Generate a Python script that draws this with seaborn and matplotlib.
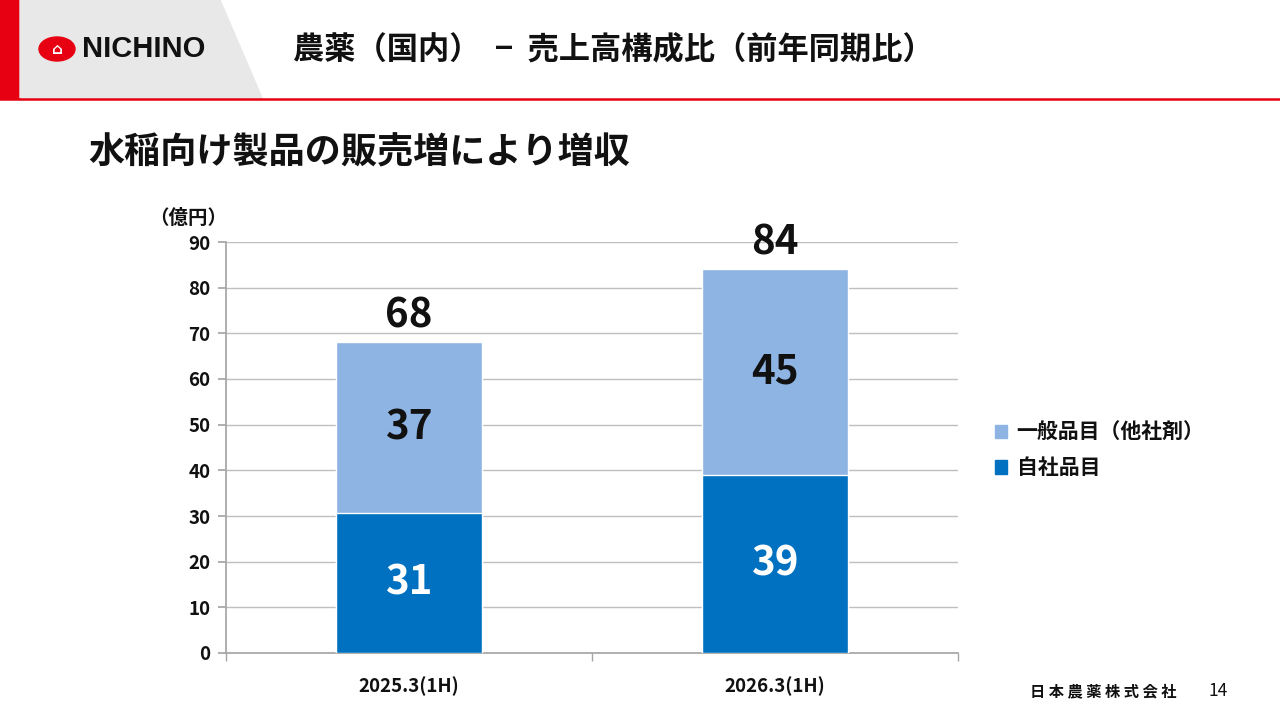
import matplotlib.pyplot as plt
import matplotlib.patches as mpatches
import seaborn as sns
import pandas as pd

periods = ['2025.3(1H)', '2026.3(1H)']
own_products = [30.6, 39.0]       # 自社品目
general_products = [37.4, 45.1]   # 一般品目（他社剤）
own_labels = ['31', '39']
general_labels = ['37', '45']
total_labels = ['68', '84']
y_ticks = [0, 10, 20, 30, 40, 50, 60, 70, 80, 90]

DARK = '#0070C0'
LIGHT = '#8EB4E3'
RED = '#E60012'

sns.set_theme(style='white')
plt.rcParams['font.family'] = ['Noto Sans CJK JP', 'DejaVu Sans']

df = pd.DataFrame({
    'period': periods,
    'own': own_products,
    'total': [a + b for a, b in zip(own_products, general_products)],
})

fig = plt.figure(figsize=(12.8, 7.2), dpi=100)

# header decoration
fig.patches.append(mpatches.Rectangle((0, 0.864), 20 / 1280, 0.136, transform=fig.transFigure,
                                      color=RED, zorder=0))
fig.patches.append(mpatches.Polygon([(20 / 1280, 1), (220 / 1280, 1), (262 / 1280, 0.864), (20 / 1280, 0.864)],
                                    closed=True, transform=fig.transFigure, color='#E8E8E8', zorder=0))
fig.lines.append(plt.Line2D([0, 1], [0.863, 0.863], transform=fig.transFigure, color=RED, lw=1.8))
fig.patches.append(mpatches.Ellipse((57 / 1280, 1 - 49 / 720), 36 / 1280, 24 / 720, transform=fig.transFigure,
                                    color=RED, zorder=1))
fig.text(57 / 1280, 1 - 49 / 720, '⌂', color='white', fontsize=11, ha='center', va='center',
         fontweight='bold', family=['DejaVu Sans'])
fig.text(82 / 1280, 1 - 49 / 720, 'NICHINO', fontsize=21, fontweight='bold', ha='left', va='center',
         family=['Liberation Sans'], color='#111111')
fig.text(293 / 1280, 1 - 50 / 720, '農薬（国内）  −  売上高構成比（前年同期比）', fontsize=22.5,
         fontweight='bold', ha='left', va='center', color='#111111')
fig.text(88 / 1280, 1 - 153 / 720, '水稲向け製品の販売増により増収', fontsize=26, fontweight='bold',
         ha='left', va='center', color='#111111')

ax = fig.add_axes([226 / 1280, 1 - 653 / 720, 732 / 1280, 411 / 720])
sns.barplot(data=df, x='period', y='total', color=LIGHT, width=0.4, saturation=1, ax=ax, zorder=3)
sns.barplot(data=df, x='period', y='own', color=DARK, width=0.4, saturation=1, ax=ax, zorder=3)
for p in ax.patches:
    p.set_edgecolor('white')
    p.set_linewidth(1)

ax.set_xlim(-0.5, 1.5)
ax.set_ylim(0, 90)
ax.set_yticks(y_ticks)
ax.yaxis.grid(True, color='#BFBFBF', lw=1, zorder=0)
ax.set_axisbelow(True)
ax.set_xlabel('')
ax.set_ylabel('')
for s in ['top', 'right']:
    ax.spines[s].set_visible(False)
ax.spines['left'].set_color('#A6A6A6')
ax.spines['bottom'].set_color('#A6A6A6')
ax.tick_params(axis='y', length=6, color='#A6A6A6', labelsize=13.5, pad=5, direction='out', left=True)
ax.tick_params(axis='x', length=0, labelsize=13.5, pad=17)
ax.set_xticks([-0.5, 0.5, 1.5], minor=True)
ax.tick_params(axis='x', which='minor', length=6, color='#A6A6A6', direction='out', bottom=True)
for lbl in ax.get_yticklabels() + ax.get_xticklabels():
    lbl.set_color('#111111')
    lbl.set_fontweight('bold')
ax.text(-0.052, 1.035, '（億円）', transform=ax.transAxes, fontsize=14, fontweight='bold',
        ha='center', va='bottom', color='#111111')

for i in range(len(periods)):
    own = own_products[i]
    gen = general_products[i]
    tot = own + gen
    ax.text(i, own / 2, own_labels[i], color='white', fontsize=29, fontweight='bold',
            ha='center', va='center', zorder=5)
    ax.text(i, own + gen / 2, general_labels[i], color='#111111', fontsize=29, fontweight='bold',
            ha='center', va='center', zorder=5)
    ax.text(i, tot + 1.2, total_labels[i], color='#111111', fontsize=29, fontweight='bold',
            ha='center', va='bottom', zorder=5)

handles = [mpatches.Patch(color=LIGHT, label='一般品目（他社剤）'),
           mpatches.Patch(color=DARK, label='自社品目')]
leg = fig.legend(handles=handles, loc='center left', bbox_to_anchor=(976 / 1280, 1 - 450 / 720),
                 frameon=False, fontsize=15, handlelength=0.6, handleheight=0.6, handletextpad=0.45,
                 labelspacing=0.7)
for t in leg.get_texts():
    t.set_fontweight('bold')
    t.set_color('#111111')

fig.text(1030 / 1280, 1 - 691 / 720, '日 本 農 薬 株 式 会 社', fontsize=11, fontweight='bold',
         ha='left', va='center', color='#111111')
fig.text(1218 / 1280, 1 - 691 / 720, '14', fontsize=12.5, ha='center', va='center', color='#111111')

fig.savefig('out.png', dpi=100)
